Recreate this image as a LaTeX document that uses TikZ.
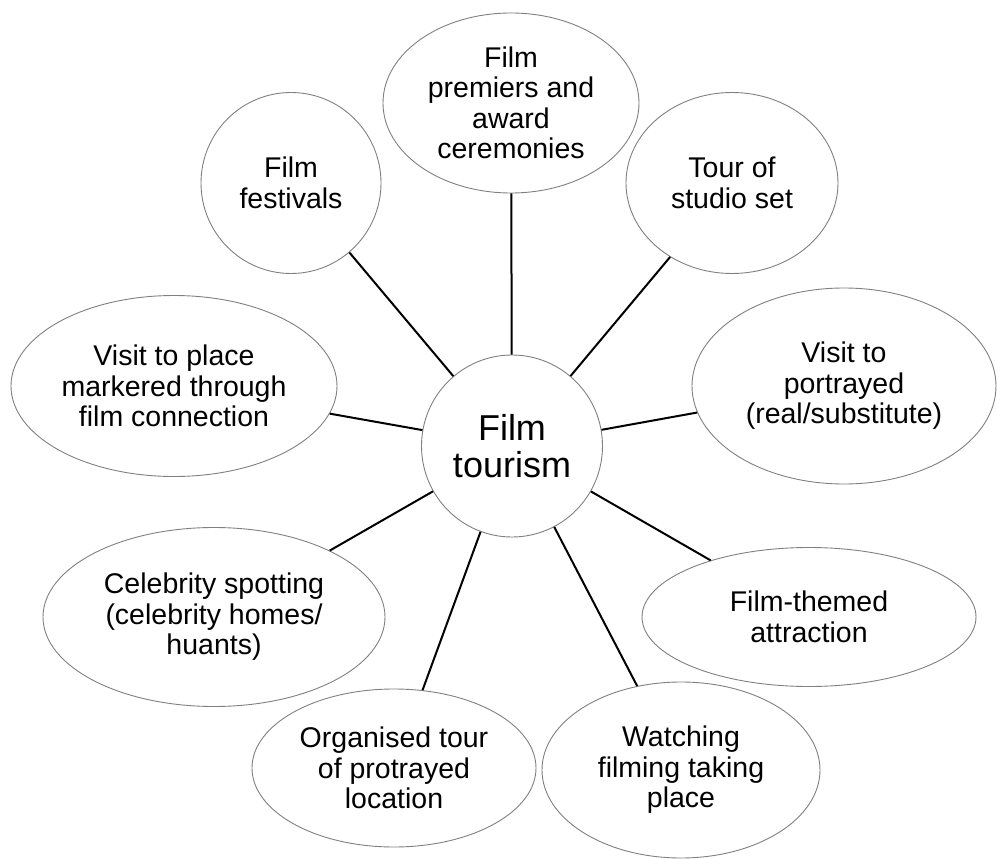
\documentclass[tikz,border=0pt]{standalone}
\usepackage{fontspec}
\setmainfont{Liberation Sans}
\usetikzlibrary{shapes.geometric}
\begin{document}
\begin{tikzpicture}[x=1pt,y=-1pt,
  bubble/.style={ellipse, draw=black!50, line width=0.9pt, fill=white,
    inner sep=0pt, align=center,
    font=\fontsize{28.5}{30.5}\selectfont},
  hub/.style={bubble, font=\fontsize{36}{37}\selectfont},
  link/.style={draw=black, line width=2pt}]
\useasboundingbox (0,0) rectangle (997,859);

% central topic
\node[hub, minimum width=181, minimum height=182] (hub) at (512,446) {Film\\tourism};

% surrounding forms of film tourism
\node[bubble, minimum width=256, minimum height=180] (premiers) at (511,103) {Film\\premiers and\\award\\ceremonies};
\node[bubble, minimum width=180, minimum height=181] (festivals) at (291,183) {Film\\festivals};
\node[bubble, minimum width=212, minimum height=181] (studio) at (732,183) {Tour of\\studio set};
\node[bubble, minimum width=326, minimum height=181] (place) at (174,386) {Visit to place\\markered through\\film connection};
\node[bubble, minimum width=304, minimum height=196] (portrayed) at (844,386) {Visit to\\portrayed\\(real/substitute)};
\node[bubble, minimum width=342, minimum height=179] (celebrity) at (214,617) {Celebrity spotting\\(celebrity homes/\\huants)};
\node[bubble, minimum width=334, minimum height=139] (themed) at (809,617) {Film-themed\\attraction};
\node[bubble, minimum width=284, minimum height=158] (organised) at (394,768) {Organised tour\\of protrayed\\location};
\node[bubble, minimum width=278, minimum height=176] (watching) at (681,770) {Watching\\filming taking\\place};

% spokes from the hub
\foreach \n in {premiers,festivals,studio,place,portrayed,celebrity,themed,organised,watching}
  \draw[link] (hub) -- (\n);
\end{tikzpicture}
\end{document}
